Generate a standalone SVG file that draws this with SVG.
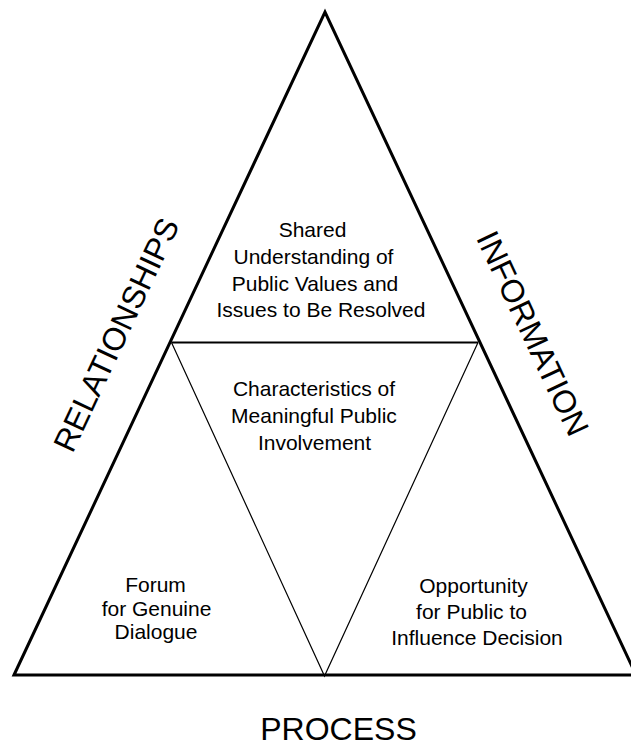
<svg xmlns="http://www.w3.org/2000/svg" width="631" height="751" viewBox="0 0 631 751">
<style>
.t{font-family:"Liberation Sans",Arial,sans-serif;font-size:21px;fill:#000;text-anchor:middle}
.big{font-family:"Liberation Sans",Arial,sans-serif;font-size:32px;fill:#000;text-anchor:middle}
.outer{fill:none;stroke:#000;stroke-width:3;stroke-linejoin:miter}
.inner{fill:none;stroke:#000;stroke-width:1.2}
.innertop{fill:none;stroke:#000;stroke-width:2}
</style>
<rect x="0" y="0" width="631" height="751" fill="#fff"/>
<g id="connectors">
<path class="outer" d="M14,675 L325,12 L636,675 Z"/>
<path class="inner" d="M171.5,342.5 L324.5,676 L478,342.5"/>
<line class="innertop" x1="171.5" y1="342.5" x2="478" y2="342.5"/>
</g>
<g id="top-node">
<text class="t" x="312.5" y="237">Shared</text>
<text class="t" x="313.5" y="264">Understanding of</text>
<text class="t" x="315" y="290.5">Public Values and</text>
<text class="t" x="321" y="317">Issues to Be Resolved</text>
</g>
<g id="center-node">
<text class="t" x="314" y="396">Characteristics of</text>
<text class="t" x="314" y="423">Meaningful Public</text>
<text class="t" x="314.5" y="450">Involvement</text>
</g>
<g id="left-node">
<text class="t" x="155.5" y="592">Forum</text>
<text class="t" x="156.5" y="615.5">for Genuine</text>
<text class="t" x="156" y="639">Dialogue</text>
</g>
<g id="right-node">
<text class="t" x="473.5" y="593">Opportunity</text>
<text class="t" x="471.5" y="619">for Public to</text>
<text class="t" x="477" y="645">Influence Decision</text>
</g>
<g id="side-labels">
<text class="big" transform="translate(126.2,339.5) rotate(-64.9)">RELATIONSHIPS</text>
<text class="big" transform="translate(522.7,338.2) rotate(64.9)">INFORMATION</text>
<text class="big" x="338.5" y="740">PROCESS</text>
</g>
</svg>
